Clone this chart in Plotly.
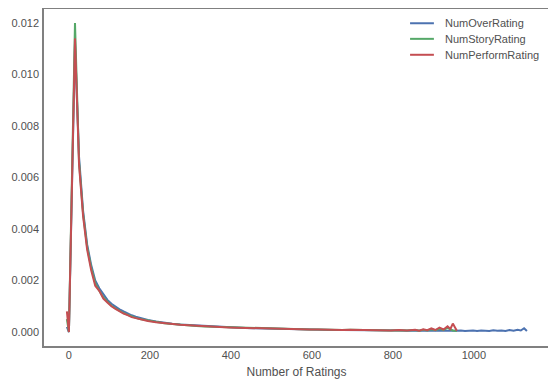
import plotly.graph_objects as go

# Shared x grid (number of ratings) for the main body
ratings = [-5, 0, 15, 25, 35, 45, 55, 65, 75, 85, 95, 105, 115, 125, 135, 145, 155, 165, 175, 185, 195,
           215, 235, 255, 275, 295, 315, 335, 355, 375, 395, 415, 435, 455, 475, 495, 515, 535, 555,
           575, 595, 615, 635, 655, 675, 695, 715, 735, 755, 775, 795, 815, 835, 855, 865, 875, 885,
           895, 905, 915, 925, 935, 942, 948, 958]

over_body = [0.0002, 0.0, 0.0112, 0.0068, 0.0047, 0.0034, 0.0026, 0.0020, 0.0017, 0.00145, 0.00125,
             0.0011, 0.00098, 0.00088, 0.0008, 0.00072, 0.00065, 0.0006, 0.00055, 0.00051, 0.00047,
             0.00041, 0.00036, 0.00032, 0.00029, 0.00027, 0.00025, 0.00023, 0.00021, 0.0002, 0.00018,
             0.00017, 0.00016, 0.00015, 0.00014, 0.00013, 0.00012, 0.00012, 0.00011, 0.0001, 0.0001,
             0.00009, 0.00009, 0.00008, 0.00008, 0.00008, 0.00007, 0.00007, 0.00007, 0.00006, 0.00006,
             0.00006, 0.00005, 0.00006, 0.00005, 0.00006, 0.00005, 0.00005, 0.00006, 0.00005, 0.00005,
             0.00006, 0.00005, 0.00005, 0.00005]
over_tail_x = [968, 978, 988, 998, 1008, 1018, 1028, 1038, 1048, 1058, 1068, 1078, 1088, 1098, 1108,
               1116, 1124, 1131]
over_tail = [0.00006, 0.00004, 0.00005, 0.00006, 0.00004, 0.00006, 0.00005, 0.00004, 0.00007, 0.00005,
             0.00006, 0.00004, 0.00008, 0.00005, 0.00009, 0.00006, 0.00015, 0.00004]

story_body = [0.0005, 0.0, 0.0120, 0.0066, 0.0046, 0.0033, 0.0025, 0.0019, 0.0016, 0.00135, 0.00118,
              0.00102, 0.00092, 0.00082, 0.00074, 0.00067, 0.0006, 0.00055, 0.00051, 0.00048, 0.00044,
              0.00039, 0.00034, 0.00031, 0.00028, 0.00026, 0.00024, 0.00022, 0.00021, 0.00019, 0.00018,
              0.00017, 0.00016, 0.00015, 0.00014, 0.00013, 0.00013, 0.00012, 0.00011, 0.00011, 0.0001,
              0.0001, 0.00009, 0.00009, 0.00008, 0.00009, 0.00008, 0.00007, 0.00008, 0.00007, 0.00006,
              0.00007, 0.00006, 0.00008, 0.00005, 0.00009, 0.00006, 0.00011, 0.00007, 0.00013, 0.00008,
              0.00016, 0.00012, 0.00006, 0.00004]

perform_body = [0.0008, 0.0, 0.0114, 0.0065, 0.0045, 0.0032, 0.0024, 0.0018, 0.0016, 0.0013, 0.00115,
                0.001, 0.0009, 0.0008, 0.00072, 0.00066, 0.00058, 0.00054, 0.0005, 0.00046, 0.00043,
                0.00038, 0.00034, 0.00031, 0.00028, 0.00026, 0.00024, 0.00022, 0.00021, 0.00019, 0.00018,
                0.00017, 0.00016, 0.00015, 0.00014, 0.00013, 0.00013, 0.00012, 0.00011, 0.00011, 0.0001,
                0.0001, 0.00009, 0.00009, 0.00008, 0.00009, 0.00008, 0.00007, 0.00008, 0.00007, 0.00006,
                0.00008, 0.00006, 0.00009, 0.00005, 0.00011, 0.00007, 0.00014, 0.00008, 0.00017, 0.0001,
                0.00022, 0.00012, 0.00033, 0.00005]

x_ticks = [0, 200, 400, 600, 800, 1000]
y_ticks = [0.0, 0.002, 0.004, 0.006, 0.008, 0.010, 0.012]
y_tick_labels = ["0.000", "0.002", "0.004", "0.006", "0.008", "0.010", "0.012"]

series = [
    ("NumOverRating", ratings + over_tail_x, over_body + over_tail, "#4C72B0"),
    ("NumStoryRating", ratings, story_body, "#55A868"),
    ("NumPerformRating", ratings, perform_body, "#C44E52"),
]

TEXT = "#505050"
FRAME = "#808080"
font_family = "Liberation Sans, Arial, sans-serif"

fig = go.Figure()
for name, xs, ys, color in series:
    fig.add_trace(go.Scatter(x=xs, y=ys, mode="lines", name=name,
                             line=dict(color=color, width=2), showlegend=False))

# Axes frame (all four sides)
fig.add_shape(type="rect", xref="paper", yref="paper", x0=0, x1=1, y0=0, y1=1,
              line=dict(color=FRAME, width=2), layer="above")

# Compact legend (matplotlib-like spacing) drawn in the axes' paper space
leg_x0, leg_x1, leg_tx = 0.724, 0.771, 0.789
leg_ys = [0.955, 0.909, 0.862]
for (name, _, _, color), ly in zip(series, leg_ys):
    fig.add_shape(type="line", xref="paper", yref="paper", x0=leg_x0, x1=leg_x1, y0=ly, y1=ly,
                  line=dict(color=color, width=2))
    fig.add_annotation(xref="paper", yref="paper", x=leg_tx, y=ly, text=name, showarrow=False,
                       xanchor="left", yanchor="middle", font=dict(size=11, color=TEXT))

fig.update_layout(
    width=548, height=379,
    margin=dict(l=35, r=6, t=0, b=40),
    paper_bgcolor="white", plot_bgcolor="white",
    font=dict(family=font_family, size=11, color=TEXT),
    showlegend=False,
)
fig.update_xaxes(range=[-64, 1188], tickvals=x_ticks, showgrid=False, zeroline=False,
                 showline=False, ticks="", ticklen=0, automargin=False,
                 title=dict(text="Number of Ratings", font=dict(size=12, color=TEXT), standoff=7))
fig.update_yaxes(range=[-0.00058, 0.01258], tickvals=y_ticks, ticktext=y_tick_labels, showgrid=False,
                 zeroline=False, showline=False, ticks="", ticklen=0, automargin=False,
                 ticklabelstandoff=3)

fig.write_html("out.html")
